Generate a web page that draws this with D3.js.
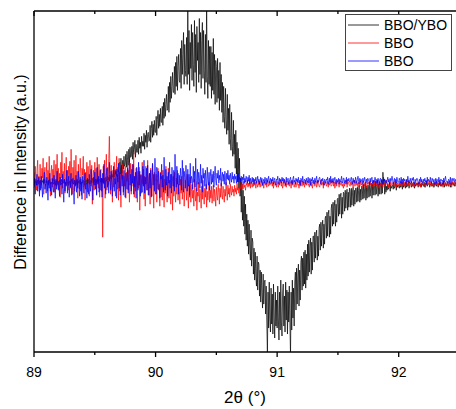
<!DOCTYPE html>
<html>
<head>
<meta charset="utf-8">
<script src="https://cdn.jsdelivr.net/npm/d3@7"></script>
<style>
  html, body { margin: 0; padding: 0; background: #fff; }
  svg { display: block; font-family: Arial, "Liberation Sans", sans-serif; }
</style>
</head>
<body>
<svg id="chart" width="456" height="409"></svg>
<script>
// ---- data (2θ grid: 89.000 to 92.500, step 0.005; each row = 0.05°) ----
const thetaStart = 89.0;
const thetaStep = 0.005;
const xTicks = [89, 90, 91, 92];
const xMinorTicks = [89.5, 90.5, 91.5, 92.5];
const seriesNames = ["BBO/YBO", "BBO", "BBO"];
const seriesColors = ["#000000", "#ff0000", "#0000ff"];

const bboYbo = [
  1,-2,0,3,-1,-3,2,0,-2,1,
  -1,2,-3,1,0,2,-2,3,-1,0,
  2,-1,1,-3,0,1,3,-2,0,-1,
  0,3,-2,-1,2,-3,1,0,2,-2,
  -3,1,2,0,-1,3,-2,1,-1,2,
  1,0,-2,2,3,-1,0,-3,1,2,
  -2,1,3,-1,0,-2,2,1,-3,0,
  2,-3,0,1,-1,2,-2,3,0,-1,
  0,2,-1,-3,1,0,3,-2,2,-1,
  3,0,-2,1,2,-1,4,0,-1,2,
  1,3,-1,2,0,4,-1,2,3,0,
  2,4,0,3,1,-1,4,2,5,1,
  3,6,2,5,1,7,4,3,8,5,
  7,10,5,12,8,11,6,13,10,12,
  10,20,8,24,14,9,22,13,26,16,
  18,28,15,31,22,17,33,20,35,25,
  26,36,23,40,28,33,42,25,38,30,
  30,42,28,45,34,40,29,46,36,41,
  36,49,33,47,40,52,35,48,50,41,
  42,57,40,54,61,45,58,47,62,50,
  50,66,47,63,72,54,68,56,74,60,
  60,76,57,80,64,84,66,78,88,72,
  74,96,70,100,80,106,84,96,110,90,
  90,116,88,120,96,126,92,116,128,102,
  100,134,94,142,108,128,150,98,138,112,
  106,145,98,175,108,152,92,140,114,158,
  102,150,118,96,162,110,148,90,156,122,
  140,100,164,108,150,94,142,160,104,152,
  112,88,148,100,175,106,84,142,98,136,
  96,136,84,130,92,144,88,128,78,122,
  116,80,124,84,112,72,120,82,108,70,
  100,60,96,66,54,94,62,48,88,52,
  74,38,78,44,32,70,36,26,62,28,
  48,14,52,8,40,0,34,-6,24,-14,
  4,-30,-2,-38,-8,-44,-14,-52,-22,-58,
  -32,-64,-38,-72,-42,-68,-78,-48,-84,-56,
  -60,-92,-66,-98,-70,-94,-104,-74,-108,-80,
  -82,-114,-88,-120,-90,-110,-126,-92,-122,-100,
  -98,-132,-104,-140,-172,-110,-146,-100,-136,-150,
  -106,-142,-112,-152,-102,-136,-156,-110,-144,-118,
  -146,-104,-136,-158,-110,-148,-98,-140,-154,-112,
  -102,-144,-114,-150,-100,-138,-108,-152,-110,-140,
  -104,-142,-172,-110,-148,-98,-136,-106,-144,-100,
  -90,-128,-86,-122,-94,-82,-124,-88,-118,-80,
  -74,-108,-76,-104,-70,-102,-68,-106,-72,-98,
  -62,-94,-58,-90,-64,-56,-92,-60,-88,-54,
  -54,-80,-50,-76,-52,-48,-78,-54,-74,-46,
  -42,-68,-40,-64,-44,-38,-66,-42,-62,-36,
  -34,-56,-30,-54,-32,-28,-55,-34,-52,-26,
  -22,-44,-20,-42,-24,-18,-44,-22,-40,-17,
  -16,-34,-12,-32,-14,-11,-36,-15,-32,-10,
  -11,-29,-8,-26,-12,-7,-28,-10,-25,-6,
  -9,-25,-6,-23,-10,-5,-24,-8,-22,-6,
  -6,-20,-5,-19,-8,-3,-20,-7,-18,-4,
  -5,-17,-2,-16,-6,-1,-18,-4,-16,-3,
  -3,-15,0,-14,-5,-1,-16,-2,-13,1,
  -3,-13,1,-12,-4,2,-14,-2,-12,0,
  -1,-12,2,-11,10,-2,3,-12,0,-10,
  -4,-8,-2,-7,-5,-1,-9,-3,-6,-4,
  -3,-7,-1,-6,-4,0,-8,-2,-5,-3,
  -4,-6,-1,-5,-3,1,-7,-2,-5,-2,
  -3,-6,0,-5,-2,-4,1,-6,-3,-1,
  -2,-5,-1,-4,-3,0,-6,-2,-4,-1,
  -3,-1,-5,-2,0,-4,-2,-5,-1,-3,
  -2,-4,0,-5,-1,-3,1,-4,-2,-2,
  -1,-5,-2,-3,0,-4,-2,-1,-5,-2,
  -3,0,-4,-1,-2,-5,-1,-3,0,-4,
  -2,-4,-1,-3,1,-5,-2,-1,-4,-2,
  -1,-3,-4,0,-2,-5,-1,-3,-2,0,
  -3,-1,-4,-2,0,-3,-5,-1,-2,-3,
  -2
];

const bboRed = [
  10,-4,16,2,-8,12,22,-2,6,-10,
  18,0,-6,14,4,24,-12,8,15,-3,
  6,20,-9,12,-2,26,3,-14,10,17,
  -5,13,1,22,-10,7,18,-4,28,0,
  14,-7,9,-15,20,4,30,-6,11,-1,
  19,-11,6,25,-3,12,-8,16,2,21,
  -6,33,8,-12,15,0,22,-9,5,27,
  -2,11,-16,18,4,-7,24,9,-13,14,
  7,26,-5,13,-18,10,3,20,-10,16,
  1,-14,22,8,-4,17,-22,6,12,-8,
  20,-3,14,-12,25,5,-6,18,-15,9,
  13,-9,4,-55,16,-2,22,-16,10,28,
  -8,15,-3,24,46,6,-12,17,0,-20,
  12,-5,20,2,-14,10,26,-7,15,-18,
  24,-9,8,-25,14,3,18,-13,6,-4,
  16,-16,10,1,22,-8,12,-20,4,19,
  -12,9,18,-4,30,-15,6,-9,14,2,
  -20,11,-6,15,-28,4,8,-11,20,-2,
  13,-17,6,-24,16,2,-8,22,-13,5,
  9,-22,14,-5,-14,18,-1,-26,10,-8,
  -12,8,-20,4,14,-8,-2,-24,10,-15,
  6,-18,12,-5,-25,3,-11,16,-6,-20,
  -3,14,-16,2,-10,-22,8,-4,-28,6,
  -14,10,-7,-20,4,-12,12,-18,-2,-9,
  -22,3,-11,6,-17,-4,14,-24,-8,2,
  -6,-18,8,-12,-26,-3,-15,5,-20,-9,
  -2,-16,-8,-24,3,-12,-19,-6,-28,-10,
  -14,0,-20,-7,-13,-26,-4,-17,2,-11,
  -22,-6,-15,-2,-25,-9,-18,-12,0,-20,
  -8,-16,-4,-21,-11,-3,-19,-7,-14,-24,
  -5,-13,-18,-2,-10,-22,-6,-15,-1,-12,
  -17,-4,-11,-20,-7,-14,0,-9,-18,-3,
  -12,-6,-15,-2,-9,-13,-4,-10,-7,-14,
  -3,-10,-6,-12,-1,-8,-5,-11,-2,-7,
  -4,0,-6,-2,-7,1,-5,-3,-8,-1,
  -3,2,-5,-1,-4,3,-6,0,-2,-5,
  -1,-4,2,-3,0,-6,1,-2,-5,0,
  -3,1,-5,-1,2,-4,-2,0,-6,1,
  0,-3,-1,-5,2,-2,-4,1,-3,-1,
  -2,2,-4,0,-6,-1,1,-3,-2,-5,
  1,-2,-5,0,-3,2,-1,-4,0,-6,
  -3,0,2,-4,-1,-5,1,-2,-3,0,
  -4,1,-2,-6,0,-3,2,-1,-5,-2,
  0,-5,-1,1,-3,-2,-6,0,-4,2,
  -2,-4,1,-3,0,-5,-1,2,-3,-1,
  1,-3,-2,-5,2,-1,-4,0,-6,-2,
  -1,0,-4,-2,1,-5,-3,2,-1,-4,
  -5,-1,2,-3,-2,0,-6,1,-3,-1,
  0,-4,-2,1,-5,-1,-3,2,-2,-4,
  -3,1,-1,-4,0,-6,-2,1,-4,0,
  2,-2,-5,0,-1,-3,1,-4,-2,-6,
  -1,-4,0,-2,2,-5,-3,0,-1,-3,
  -4,0,-3,1,-2,-5,-1,2,-4,-1,
  1,-3,-1,-5,0,-2,-4,1,-3,-2,
  -2,-5,1,-1,-4,0,-3,-6,0,-2,
  0,-2,-4,1,-3,-1,-5,0,-2,2,
  -3,1,-1,-4,0,-2,-6,-1,1,-3,
  -1,-4,0,-2,-5,1,-3,-1,-4,0,
  2,-3,-1,-5,-2,0,-4,1,-2,-3,
  -2,0,-4,-1,1,-3,-5,0,-2,-1,
  -4,-1,1,-3,-2,-5,0,-2,1,-4,
  0,-3,-2,2,-4,-1,-3,0,-5,-1,
  -1,1,-4,-2,0,-5,-1,-3,1,-2,
  -3,-1,0,-4,-2,1,-5,-1,-3,0,
  1,-4,-2,-1,-5,0,-2,-3,2,-1,
  -2,0,-3,1,-4,-1,-2,-5,0,-3,
  -1,-3,1,-2,0,-4,-1,2,-3,-2,
  -4,0,-2,-5,1,-1,-3,0,-2,-4,
  0,-2,-4,1,-1,-3,0,-5,-2,1,
  -3,-1,0,-4,-2,1,-3,-1,-4,0,
  -1
];

const bboBlue = [
  -6,4,-12,1,-3,8,-9,-1,5,-14,
  2,-8,6,-4,-15,3,-1,10,-7,-2,
  -11,5,-3,-18,2,-6,9,-9,0,-13,
  4,-5,-10,7,-2,-16,3,-7,11,-4,
  -8,1,-14,5,-3,-1,-12,8,-6,-20,
  3,-9,0,-4,12,-11,-2,6,-15,1,
  -5,9,-13,-1,4,-8,-22,2,-4,7,
  -10,3,-6,11,-2,-14,5,-9,0,-17,
  6,-3,-11,2,9,-7,-1,-16,4,-5,
  -12,8,-2,-9,13,0,-6,-18,5,-3,
  10,-7,3,-13,15,-2,6,-10,-4,12,
  -8,4,-15,9,-1,18,-6,2,-12,7,
  14,-5,1,-11,20,3,-8,11,-3,-14,
  6,16,-9,4,-2,13,-16,8,0,19,
  -6,10,-13,2,17,-4,7,-10,12,-1,
  -15,9,3,-7,14,-11,5,21,-3,8,
  -9,13,-1,18,-12,6,-5,10,-16,15,
  2,-8,20,-3,11,-14,7,0,-10,16,
  -4,22,-11,5,-2,14,-8,17,1,-13,
  9,-6,12,-15,6,19,-3,8,-9,24,
  0,-12,15,4,-7,11,-2,-16,9,3,
  18,-5,7,-10,25,2,-8,13,-3,6,
  -14,10,-1,20,-6,8,-11,15,1,-4,
  12,-9,28,3,-5,16,-2,9,-12,7,
  -3,14,4,-8,22,0,-10,11,5,-6,
  17,2,-9,13,-4,8,-13,19,-1,6,
  3,-7,16,0,11,-5,24,2,-9,13,
  -2,10,5,-6,18,-1,7,-10,14,4,
  9,-4,12,1,-7,15,3,-3,10,-8,
  6,13,-2,8,0,11,-5,7,16,2,
  -3,9,4,12,-1,7,2,14,-4,6,
  10,1,8,-2,11,4,-3,9,3,12,
  2,7,-2,9,4,0,10,3,6,-1,
  8,3,6,-1,7,2,9,0,5,4,
  1,6,-2,5,2,8,-1,4,0,6,
  3,-1,5,1,7,-2,4,2,-1,5,
  0,4,-2,3,1,5,-1,2,6,0,
  3,-2,2,5,0,4,-3,1,3,-1,
  5,1,-2,4,0,3,6,-1,2,4,
  -1,3,1,5,-2,2,4,0,-3,3,
  2,6,0,-2,4,1,3,-1,5,1,
  4,-1,3,1,-3,5,0,2,4,-2,
  1,3,5,-1,2,-2,4,6,0,2,
  -2,4,1,3,0,5,-1,2,-3,4,
  3,0,6,1,-1,3,2,-2,4,1,
  0,5,-1,2,4,-3,3,1,5,-1,
  2,-2,4,0,3,6,-1,2,0,4,
  5,1,-2,3,1,4,0,-3,3,2,
  -1,3,2,5,-2,1,4,0,6,-1,
  3,0,4,-1,2,5,1,-2,3,0,
  1,4,-2,3,0,2,6,1,-1,4,
  4,-1,2,0,5,-2,3,1,4,0,
  0,3,5,1,-2,4,0,2,-1,5,
  2,-1,3,6,1,-2,4,0,3,1,
  -2,4,0,2,5,1,-1,3,0,4,
  3,1,-2,4,0,3,5,-1,2,0,
  1,5,2,-1,3,0,4,1,-3,3,
  4,0,3,1,-2,5,1,3,0,2,
  -1,2,5,0,3,-2,4,1,2,6,
  2,-2,1,4,0,3,-1,5,1,0,
  0,4,2,-1,5,1,3,-2,4,1,
  3,1,-2,3,0,6,1,2,-1,4,
  1,-1,4,2,5,0,-2,3,1,2,
  4,2,0,-2,3,1,5,0,3,-1,
  -1,3,1,4,0,2,-2,5,1,3,
  2,0,5,1,-1,4,2,0,3,-2,
  0,4,-1,3,2,0,5,1,-2,3,
  3,1,2,-2,4,0,3,6,1,0,
  1,-1,3,2,0,5,-2,2,4,1,
  2,4,0,1,3,-1,2,0,5,2,
  2
];

// ---- layout ----
const W = 456, H = 409;
const plot = { left: 34, right: 459.5, top: 11, bottom: 352 };

const svg = d3.select("#chart");

const x = d3.scaleLinear().domain([89, 92.5]).range([plot.left, plot.right]);
const y = d3.scaleLinear().domain([-170, 171.5]).range([plot.bottom, plot.top]);

svg.append("defs").append("clipPath").attr("id", "plotclip")
  .append("rect")
  .attr("x", plot.left).attr("y", plot.top)
  .attr("width", plot.right - plot.left).attr("height", plot.bottom - plot.top);

const toPoints = arr => arr.map((v, i) => [thetaStart + i * thetaStep, v]);
const line = d3.line().x(d => x(d[0])).y(d => y(d[1]));

const seriesData = [bboYbo, bboRed, bboBlue];
const g = svg.append("g").attr("clip-path", "url(#plotclip)");
seriesData.forEach((arr, k) => {
  g.append("path")
    .datum(toPoints(arr))
    .attr("fill", "none")
    .attr("stroke", seriesColors[k])
    .attr("stroke-width", 0.7)
    .attr("d", line);
});

// ---- axes ----
const axisColor = "#000";
const bottomAxis = svg.append("g").attr("transform", `translate(0,${plot.bottom})`);
bottomAxis.append("line").attr("x1", plot.left).attr("x2", W).attr("y1", 0).attr("y2", 0)
  .attr("stroke", axisColor).attr("stroke-width", 1.3);
bottomAxis.selectAll(".maj").data(xTicks).join("line").attr("class", "maj")
  .attr("x1", d => x(d)).attr("x2", d => x(d)).attr("y1", 0).attr("y2", 5)
  .attr("stroke", axisColor).attr("stroke-width", 1.3);
bottomAxis.selectAll(".min").data(xMinorTicks).join("line").attr("class", "min")
  .attr("x1", d => x(d)).attr("x2", d => x(d)).attr("y1", 0).attr("y2", 3)
  .attr("stroke", axisColor).attr("stroke-width", 1.3);
bottomAxis.selectAll("text").data(xTicks).join("text")
  .attr("x", d => x(d)).attr("y", 25)
  .attr("text-anchor", "middle")
  .attr("font-size", 14).attr("fill", "#000")
  .text(d => d);

const topAxis = svg.append("g").attr("transform", `translate(0,${plot.top})`);
topAxis.append("line").attr("x1", plot.left).attr("x2", W).attr("y1", 0).attr("y2", 0)
  .attr("stroke", axisColor).attr("stroke-width", 1.3);
topAxis.selectAll(".maj").data(xTicks).join("line").attr("class", "maj")
  .attr("x1", d => x(d)).attr("x2", d => x(d)).attr("y1", 0).attr("y2", 5)
  .attr("stroke", axisColor).attr("stroke-width", 1.3);
topAxis.selectAll(".min").data(xMinorTicks).join("line").attr("class", "min")
  .attr("x1", d => x(d)).attr("x2", d => x(d)).attr("y1", 0).attr("y2", 3)
  .attr("stroke", axisColor).attr("stroke-width", 1.3);

svg.append("line").attr("x1", plot.left).attr("x2", plot.left)
  .attr("y1", plot.top).attr("y2", plot.bottom)
  .attr("stroke", axisColor).attr("stroke-width", 1.3);

// axis titles
svg.append("text").attr("x", 245).attr("y", 403)
  .attr("text-anchor", "middle").attr("font-size", 17).attr("fill", "#000")
  .text("2θ (°)");
svg.append("text")
  .attr("transform", "translate(26,172) rotate(-90)")
  .attr("text-anchor", "middle").attr("font-size", 16).attr("fill", "#000")
  .text("Difference in Intensity (a.u.)");

// ---- legend ----
const lg = svg.append("g");
lg.append("rect").attr("x", 345.5).attr("y", 14.5).attr("width", 106).attr("height", 56)
  .attr("fill", "#fff").attr("stroke", "#444").attr("stroke-width", 1);
seriesNames.forEach((name, k) => {
  const yy = 25 + k * 18;
  lg.append("line").attr("x1", 348).attr("x2", 379).attr("y1", yy).attr("y2", yy)
    .attr("stroke", seriesColors[k]).attr("stroke-width", 0.8);
  lg.append("text").attr("x", 384).attr("y", yy + 5)
    .attr("font-size", 14).attr("fill", "#000").text(name);
});
</script>
</body>
</html>
